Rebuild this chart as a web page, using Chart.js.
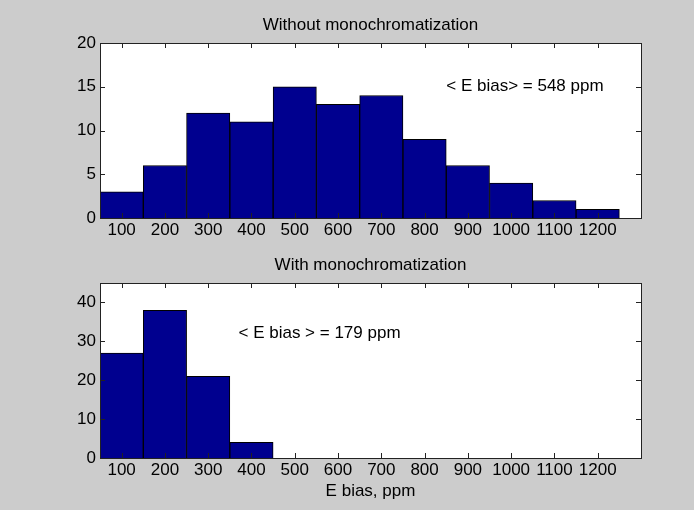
<!DOCTYPE html>
<html>
<head>
<meta charset="utf-8">
<script src="https://cdn.jsdelivr.net/npm/chart.js@4"></script>
<style>
    body { margin: 0; background: #cccccc; }
    #wrap { position: relative; width: 694px; height: 510px; }
    #wrap canvas { position: absolute; left: 0; top: 0; }
</style>
</head>
<body>
<div id="wrap">
    <canvas id="topChart" width="694" height="510"></canvas>
    <canvas id="bottomChart" width="694" height="510"></canvas>
</div>
<script>
// histogram bins (ppm) and counts
const binCenters = [100, 200, 300, 400, 500, 600, 700, 800, 900, 1000, 1100, 1200];
const countsWithout = [3, 6, 12, 11, 15, 13, 14, 9, 6, 4, 2, 1];
const binCentersMono = [100, 200, 300, 400];
const countsWith = [27, 38, 21, 4];

const xTicks = [100, 200, 300, 400, 500, 600, 700, 800, 900, 1000, 1100, 1200];
const yTicksTop = [0, 5, 10, 15, 20];
const yTicksBottom = [0, 10, 20, 30, 40];

const FONT = "'Liberation Sans', Arial, Helvetica, sans-serif";
Chart.defaults.color = '#000';
Chart.defaults.font.family = FONT;
Chart.defaults.font.size = 17;

// white axes, box with inward ticks, title and text annotation (MATLAB look)
const matlabAxes = {
    id: 'matlabAxes',
    beforeDraw(chart) {
        const { ctx, chartArea: a } = chart;
        ctx.save();
        ctx.fillStyle = '#fff';
        ctx.fillRect(a.left, a.top, a.right - a.left, a.bottom - a.top);
        ctx.restore();
    },
    afterDraw(chart, args, opts) {
        const { ctx, chartArea: a, scales } = chart;
        const len = 5;
        ctx.save();
        ctx.strokeStyle = '#222';
        ctx.lineWidth = 1;
        ctx.beginPath();
        scales.x.ticks.forEach(t => {
            const px = Math.round(scales.x.getPixelForValue(t.value)) + 0.5;
            ctx.moveTo(px, a.bottom); ctx.lineTo(px, a.bottom - len);
            ctx.moveTo(px, a.top); ctx.lineTo(px, a.top + len);
        });
        scales.y.ticks.forEach(t => {
            const py = Math.round(scales.y.getPixelForValue(t.value)) + 0.5;
            ctx.moveTo(a.left, py); ctx.lineTo(a.left + len, py);
            ctx.moveTo(a.right, py); ctx.lineTo(a.right - len, py);
        });
        ctx.stroke();
        ctx.strokeRect(Math.round(a.left) + 0.5, Math.round(a.top) + 0.5,
            Math.round(a.right - a.left), Math.round(a.bottom - a.top));

        ctx.fillStyle = '#000';
        ctx.font = '17px ' + FONT;
        ctx.textAlign = 'center';
        ctx.textBaseline = 'middle';
        ctx.fillText(opts.title, (a.left + a.right) / 2, a.top - 18);

        ctx.textAlign = 'left';
        ctx.fillText(opts.note, scales.x.getPixelForValue(opts.noteX), scales.y.getPixelForValue(opts.noteY));
        ctx.restore();
    }
};

function makeChart(id, centers, counts, yMax, yTicks, pad, xHeight, opts, xTitle) {
    return new Chart(document.getElementById(id), {
        type: 'bar',
        data: {
            datasets: [{
                data: centers.map((c, i) => ({ x: c, y: counts[i] })),
                backgroundColor: '#00008F',
                borderColor: '#000',
                borderWidth: 1,
                barPercentage: 1,
                categoryPercentage: 1
            }]
        },
        options: {
            responsive: false,
            animation: false,
            layout: { padding: pad },
            plugins: {
                legend: { display: false },
                tooltip: { enabled: false },
                matlabAxes: opts
            },
            scales: {
                x: {
                    type: 'linear',
                    min: 50,
                    max: 1300,
                    offset: false,
                    grid: { display: false, drawTicks: false, offset: false },
                    border: { display: false },
                    ticks: { padding: 2, autoSkip: false, maxRotation: 0, callback: v => String(v) },
                    afterBuildTicks: s => { s.ticks = xTicks.map(v => ({ value: v })); },
                    afterFit: s => { s.height = xHeight; },
                    title: xTitle
                },
                y: {
                    min: 0,
                    max: yMax,
                    grid: { display: false, drawTicks: false },
                    border: { display: false },
                    ticks: { padding: 4, callback: v => String(v) },
                    afterBuildTicks: s => { s.ticks = yTicks.map(v => ({ value: v })); },
                    afterFit: s => { s.width = 100; }
                }
            }
        },
        plugins: [matlabAxes]
    });
}

makeChart('topChart', binCenters, countsWithout, 20, yTicksTop,
    { top: 43, right: 53, bottom: 265, left: 0 }, 27,
    { title: 'Without monochromatization', note: '< E bias> = 548 ppm', noteX: 850, noteY: 15 },
    { display: false });

makeChart('bottomChart', binCentersMono, countsWith, 45, yTicksBottom,
    { top: 283, right: 53, bottom: 0, left: 0 }, 52,
    { title: 'With monochromatization', note: '< E bias > = 179 ppm', noteX: 370, noteY: 32 },
    { display: true, text: 'E bias, ppm', padding: { top: 0, bottom: 8 } });
</script>
</body>
</html>
